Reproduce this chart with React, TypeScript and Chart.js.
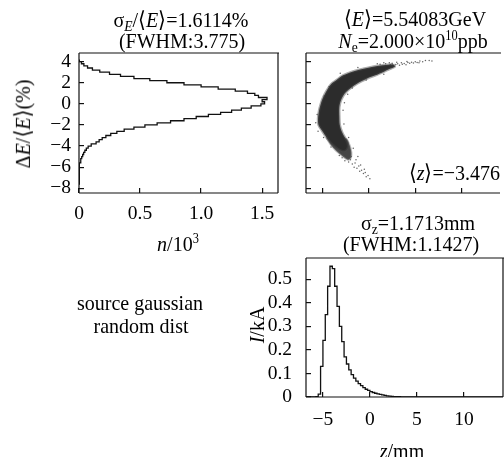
import React, { useEffect, useRef } from 'react';
import { Chart, registerables } from 'chart.js';

Chart.register(...registerables);

const SERIF = '"Liberation Serif", "Times New Roman", serif';

// ---------- Energy-spread histogram (left top) ----------
const eBinWidth = 0.2;
const eBinCenters = [
  -7.5, -7.3, -7.1, -6.9, -6.7, -6.5, -6.3, -6.1, -5.9, -5.7,
  -5.5, -5.3, -5.1, -4.9, -4.7, -4.5, -4.3, -4.1, -3.9, -3.7,
  -3.5, -3.3, -3.1, -2.9, -2.7, -2.5, -2.3, -2.1, -1.9, -1.7,
  -1.5, -1.3, -1.1, -0.9, -0.7, -0.5, -0.3, -0.1, 0.1, 0.3,
  0.5, 0.7, 0.9, 1.1, 1.3, 1.5, 1.7, 1.9, 2.1, 2.3,
  2.5, 2.7, 2.9, 3.1, 3.3, 3.5, 3.7, 3.9, 4.1,
];
const eCounts = [
  0.0005, 0.001, 0.001, 0.001, 0.002, 0.002, 0.003, 0.004, 0.006, 0.008,
  0.011, 0.016, 0.022, 0.03, 0.038, 0.048, 0.06, 0.075, 0.1, 0.14,
  0.165, 0.19, 0.22, 0.26, 0.31, 0.37, 0.45, 0.54, 0.64, 0.75,
  0.86, 0.96, 1.06, 1.16, 1.25, 1.33, 1.41, 1.49, 1.52, 1.5,
  1.54, 1.47, 1.44, 1.38, 1.28, 1.14, 1.0, 0.86, 0.72, 0.58,
  0.45, 0.34, 0.25, 0.17, 0.11, 0.07, 0.04, 0.02, 0.005,
];
const nTicks = [0, 0.5, 1.0, 1.5];
const dETicks = [-8, -6, -4, -2, 0, 2, 4];
const nRange = [0, 1.63];
const dERange = [-8.45, 4.82];

// ---------- Current histogram (bottom right) ----------
const zBinWidth = 0.25;
const zBinStarts = [
  -6.0, -5.75, -5.5, -5.25, -5.0, -4.75, -4.5, -4.25, -4.0, -3.75,
  -3.5, -3.25, -3.0, -2.75, -2.5, -2.25, -2.0, -1.75, -1.5, -1.25,
  -1.0, -0.75, -0.5, -0.25, 0.0, 0.25, 0.5, 0.75, 1.0, 1.25,
  1.5, 1.75, 2.0, 2.25, 2.5, 2.75, 3.0,
];
const zCurrent = [
  0, 0.002, 0.012, 0.13, 0.24, 0.35, 0.47, 0.555, 0.545, 0.47,
  0.385, 0.3, 0.235, 0.17, 0.14, 0.115, 0.095, 0.08, 0.067, 0.057,
  0.048, 0.04, 0.033, 0.028, 0.023, 0.019, 0.016, 0.013, 0.011, 0.009,
  0.007, 0.005, 0.004, 0.003, 0.002, 0.002, 0.001,
];
const zTicks = [-5, 0, 5, 10];
const iTicks = [0, 0.1, 0.2, 0.3, 0.4, 0.5];
const zRange = [-6.8, 14.15];
const iRange = [0, 0.59];

// ---------- Longitudinal phase space (top right) ----------
// dense core outline (z [mm], dE/E [%])
const coreZ = [
  2.6, 1.5, 0.3, -0.7, -1.8, -2.8, -3.5, -4.1, -4.6, -5.0,
  -5.2, -5.4, -5.5, -5.45, -5.1, -4.8, -4.4, -3.9, -3.3, -2.7,
  -2.3, -2.3, -2.6, -2.9, -3.15, -3.2, -3.2, -3.0, -2.5, -1.3,
  -0.2, 0.7, 1.5, 2.2, 2.8, 2.6,
];
const coreE = [
  3.75, 3.65, 3.5, 3.3, 3.05, 2.7, 2.25, 1.85, 1.2, 0.5,
  0.0, -0.7, -1.4, -2.0, -2.5, -2.9, -3.4, -3.9, -4.3, -4.5,
  -4.2, -3.7, -3.2, -2.7, -2.0, -1.2, -0.3, 0.4, 1.1, 1.9,
  2.4, 2.7, 3.0, 3.3, 3.55, 3.75,
];
// lower, thinner part of the bunch
const lowZ = [-4.6, -4.1, -3.6, -3.0, -2.5, -2.2, -1.95, -1.9, -2.1, -2.5, -4.6];
const lowE = [-3.2, -3.9, -4.4, -4.85, -5.2, -5.3, -5.1, -4.6, -3.9, -3.3, -3.2];
// sparse particles in tails and at the edges
const dotZ = [
  1.2, 1.5, 1.8, 2.0, 2.3, 2.5, 2.7, 2.9, 3.1, 3.3, 3.5, 3.6, 3.8, 4.0, 4.2,
  4.4, 4.6, 4.8, 5.0, 5.2, 5.5, 5.8, 6.1, 6.5, 3.0, 2.2, 1.6, 4.1, 5.4, 6.8,
  -3.2, -2.9, -2.6, -2.2, -2.0, -1.8, -1.5, -1.6, -1.3, -1.1, -1.0, -0.8, -0.6, -0.4, -0.3,
  -0.1, 0.1, -1.9, -2.4, -1.4, -0.9, -2.7, -1.2, -0.5,
  -5.6, -5.75, -5.5, -4.85, -4.3, -3.1, -1.2, 0.9, -4.9, -4.1,
  -2.8, -2.3, -1.8, -0.3, 1.6, -2.7, -2.2, -1.7, -2.65,
];
const dotE = [
  3.75, 3.55, 3.8, 3.62, 3.7, 3.85, 3.58, 3.72, 3.8, 3.66, 3.9, 3.75, 3.82, 3.7, 3.92,
  3.85, 3.95, 3.88, 4.0, 3.93, 4.05, 4.0, 4.1, 4.12, 3.95, 3.9, 3.9, 4.02, 3.9, 4.05,
  -4.9, -5.1, -5.4, -5.5, -5.3, -5.7, -5.6, -6.0, -6.1, -5.9, -6.4, -6.3, -6.6, -6.5, -6.9,
  -6.8, -7.1, -5.0, -4.9, -5.3, -5.8, -4.7, -5.0, -6.2,
  -1.0, -1.8, -2.6, 0.75, 1.65, 2.9, 3.45, 3.8, -3.2, -4.1,
  -0.6, 0.9, 1.5, 2.25, 2.8, -1.9, -3.2, -4.2, 0.1,
];

// ---------- helpers ----------
const INK = '#111';
const fmtSigned = (v: number) => (v < 0 ? '\u2212' + Math.abs(v) : String(v));
const fmtDec = (v: number) => (Math.abs(v) < 1e-9 ? '0' : v.toFixed(1));

const framePlugin = {
  id: 'frame',
  afterDraw(chart: any, _args: any, opts: any) {
    const { ctx, chartArea } = chart;
    const { left, right, top, bottom } = chartArea;
    const sides: string = opts.sides || 'tlbr';
    ctx.save();
    ctx.strokeStyle = INK;
    ctx.lineWidth = 1.2;
    ctx.beginPath();
    if (sides.includes('t')) { ctx.moveTo(left, top); ctx.lineTo(right + 1, top); }
    if (sides.includes('b')) { ctx.moveTo(left, bottom); ctx.lineTo(right, bottom); }
    if (sides.includes('l')) { ctx.moveTo(left, top); ctx.lineTo(left, bottom); }
    if (sides.includes('r')) { ctx.moveTo(right, top); ctx.lineTo(right, bottom); }
    ctx.stroke();
    ctx.restore();
  },
};

function axis(opts: {
  range: number[];
  ticks: number[];
  labels: boolean;
  fmt?: (v: number) => string;
  padding?: number;
  size: number;
  horizontal: boolean;
}) {
  return {
    type: 'linear',
    min: opts.range[0],
    max: opts.range[1],
    afterBuildTicks: (s: any) => {
      s.ticks = opts.ticks.map((v) => ({ value: v }));
    },
    afterFit: (s: any) => {
      if (opts.horizontal) s.height = opts.size;
      else s.width = opts.size;
    },
    ticks: {
      display: opts.labels,
      callback: (v: any) => (opts.fmt ? opts.fmt(Number(v)) : String(v)),
      font: { family: SERIF, size: 19.5 },
      color: '#000',
      padding: opts.padding ?? 10,
      maxRotation: 0,
      autoSkip: false,
    },
    grid: {
      drawOnChartArea: false,
      drawTicks: true,
      tickLength: -5,
      color: INK,
      lineWidth: 1.2,
    },
    border: { display: false },
  };
}

function baseOptions(padding: any, sides: string, scales: any) {
  return {
    animation: false,
    responsive: false,
    maintainAspectRatio: false,
    events: [],
    layout: { padding },
    plugins: {
      legend: { display: false },
      tooltip: { enabled: false },
      title: { display: false },
      frame: { sides },
    },
    scales,
  };
}

function energyConfig(): any {
  const pts: { x: number; y: number }[] = [];
  eBinCenters.forEach((c, i) => {
    pts.push({ x: eCounts[i], y: c - eBinWidth / 2 });
    pts.push({ x: eCounts[i], y: c + eBinWidth / 2 });
  });
  pts.unshift({ x: 0, y: pts[0].y });
  pts.push({ x: 0, y: pts[pts.length - 1].y });
  return {
    type: 'scatter',
    data: {
      datasets: [
        { data: pts, showLine: true, borderColor: INK, borderWidth: 1.3, pointRadius: 0, fill: false },
      ],
    },
    options: baseOptions({ top: 53, right: 226, left: 0, bottom: 0 }, 'tlbr', {
      x: axis({ range: nRange, ticks: nTicks, labels: true, fmt: fmtDec, padding: 14, size: 264, horizontal: true }),
      y: axis({ range: dERange, ticks: dETicks, labels: true, fmt: fmtSigned, padding: 13, size: 79, horizontal: false }),
    }),
    plugins: [framePlugin],
  };
}

function phaseConfig(): any {
  const core = coreZ.map((z, i) => ({ x: z, y: coreE[i] }));
  const low = lowZ.map((z, i) => ({ x: z, y: lowE[i] }));
  const dots = dotZ.map((z, i) => ({ x: z, y: dotE[i] }));
  return {
    type: 'scatter',
    data: {
      datasets: [
        {
          data: core,
          showLine: true,
          fill: 'shape',
          backgroundColor: '#2c2c2c',
          borderColor: 'rgba(70,70,70,0.45)',
          borderWidth: 2.5,
          pointRadius: 0,
          tension: 0.3,
        },
        {
          data: low,
          showLine: true,
          fill: 'shape',
          backgroundColor: '#454545',
          borderColor: 'rgba(110,110,110,0.45)',
          borderWidth: 2,
          pointRadius: 0,
          tension: 0.3,
        },
        { data: dots, pointRadius: 0.75, pointBorderWidth: 0, backgroundColor: '#666', borderColor: '#666' },
      ],
    },
    options: baseOptions({ top: 53, right: 1, left: 0, bottom: 0 }, 'tlb', {
      x: axis({ range: zRange, ticks: zTicks, labels: false, size: 264, horizontal: true }),
      y: axis({ range: dERange, ticks: dETicks, labels: false, size: 306, horizontal: false }),
    }),
    plugins: [framePlugin],
  };
}

function currentConfig(): any {
  const pts: { x: number; y: number }[] = [{ x: zRange[0], y: 0 }];
  zBinStarts.forEach((s, i) => {
    pts.push({ x: s, y: zCurrent[i] });
    pts.push({ x: s + zBinWidth, y: zCurrent[i] });
  });
  pts.push({ x: zBinStarts[zBinStarts.length - 1] + zBinWidth, y: 0 });
  pts.push({ x: zRange[1], y: 0 });
  return {
    type: 'scatter',
    data: {
      datasets: [
        { data: pts, showLine: true, borderColor: INK, borderWidth: 1.3, pointRadius: 0, fill: false },
      ],
    },
    options: baseOptions({ top: 258, right: 1, left: 0, bottom: 0 }, 'tlbr', {
      x: axis({ range: zRange, ticks: zTicks, labels: true, fmt: fmtSigned, padding: 16, size: 60, horizontal: true }),
      y: axis({ range: iRange, ticks: iTicks, labels: true, fmt: fmtDec, padding: 19, size: 306, horizontal: false }),
    }),
    plugins: [framePlugin],
  };
}

function Label(props: { x: number; y: number; rotate?: boolean; children: any; align?: 'center' | 'right' }) {
  const tx = props.align === 'right' ? '-100%' : '-50%';
  return (
    <div
      style={{
        position: 'absolute',
        left: props.x,
        top: props.y,
        transform: `translate(${tx},-50%)${props.rotate ? ' rotate(-90deg)' : ''} scaleY(1.1)`,
        transformOrigin: props.align === 'right' ? 'right center' : 'center center',
        whiteSpace: 'nowrap',
        fontSize: 20,
        lineHeight: 1,
        textAlign: 'center',
      }}
    >
      {props.children}
    </div>
  );
}

const subStyle: React.CSSProperties = { fontSize: '0.68em', verticalAlign: '-0.28em', lineHeight: 0 };
const supStyle: React.CSSProperties = { fontSize: '0.62em', verticalAlign: '0.55em', lineHeight: 0 };

export default function App() {
  const aRef = useRef<HTMLCanvasElement>(null);
  const bRef = useRef<HTMLCanvasElement>(null);
  const cRef = useRef<HTMLCanvasElement>(null);

  useEffect(() => {
    const charts = [
      new Chart(aRef.current as HTMLCanvasElement, energyConfig()),
      new Chart(bRef.current as HTMLCanvasElement, phaseConfig()),
      new Chart(cRef.current as HTMLCanvasElement, currentConfig()),
    ];
    return () => charts.forEach((c) => c.destroy());
  }, []);

  const cv: React.CSSProperties = { position: 'absolute', left: 0, top: 0, width: 504, height: 457 };

  return (
    <div
      style={{
        position: 'fixed',
        left: 0,
        top: 0,
        width: 504,
        height: 457,
        overflow: 'hidden',
        background: '#fff',
        fontFamily: SERIF,
        color: '#000',
      }}
    >
      <canvas ref={aRef} width={504} height={457} style={cv} />
      <canvas ref={bRef} width={504} height={457} style={cv} />
      <canvas ref={cRef} width={504} height={457} style={cv} />

      <Label x={181} y={19}>
        σ<span style={subStyle}><i>E</i></span>/⟨<i>E</i>⟩=1.6114%
      </Label>
      <Label x={182} y={40}>(FWHM:3.775)</Label>

      <Label x={415} y={18}>
        ⟨<i>E</i>⟩=5.54083GeV
      </Label>
      <Label x={413} y={40}>
        <i>N</i>
        <span style={subStyle}>e</span>=2.000×10<span style={supStyle}>10</span>ppb
      </Label>
      <Label x={500} y={172} align="right">
        ⟨<i>z</i>⟩=−3.476
      </Label>

      <Label x={418} y={222}>
        σ<span style={subStyle}>z</span>=1.1713mm
      </Label>
      <Label x={411} y={243}>(FWHM:1.1427)</Label>

      <Label x={178} y={243}>
        <i>n</i>/10<span style={supStyle}>3</span>
      </Label>
      <Label x={22} y={124} rotate>
        Δ<i>E</i>/⟨<i>E</i>⟩(%)
      </Label>

      <Label x={256} y={325} rotate>
        <i>I</i>/kA
      </Label>
      <Label x={402} y={450}>
        <i>z</i>/mm
      </Label>

      <Label x={140} y={302}>source gaussian</Label>
      <Label x={141} y={325}>random dist</Label>
    </div>
  );
}
